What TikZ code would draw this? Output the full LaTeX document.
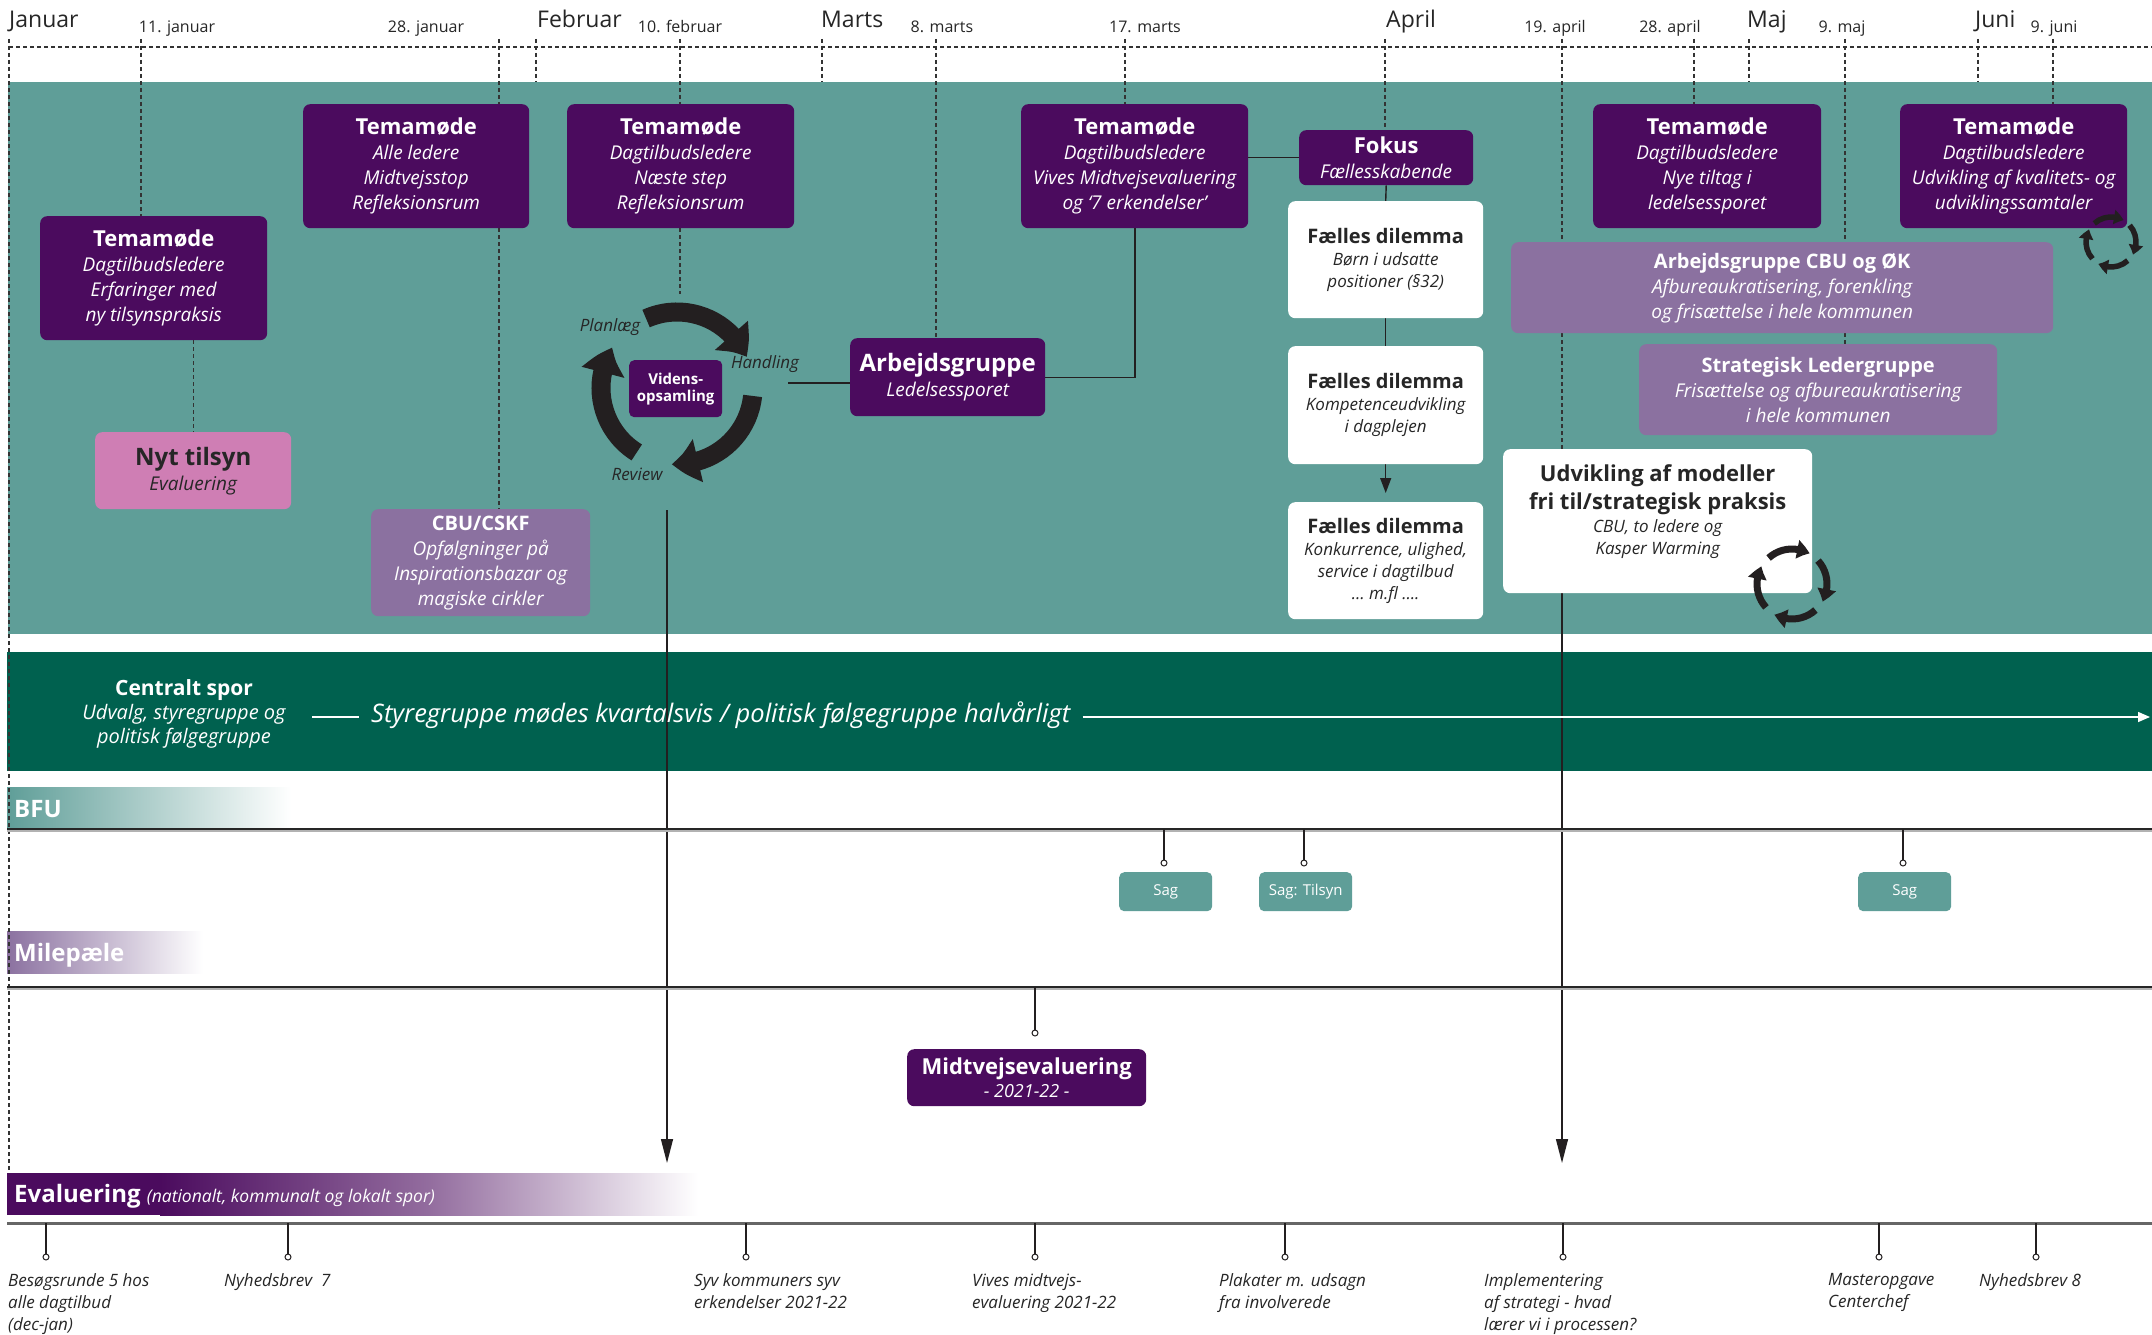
\documentclass[tikz,border=0pt]{standalone}
\usepackage{fontspec}
\setmainfont{Open Sans}
\usetikzlibrary{arrows.meta,calc,bending}
\definecolor{purpD}{HTML}{4B0B5E}
\definecolor{purpM}{HTML}{8B71A0}
\definecolor{pinkC}{HTML}{CF7EB4}
\definecolor{tealC}{HTML}{5F9E98}
\definecolor{greenD}{HTML}{00614F}
\definecolor{inkC}{HTML}{231F20}
\definecolor{txtD}{HTML}{262626}
\newcommand\mttl{\bfseries\upshape\fontsize{22}{26}\selectfont}
\newcommand\bttl{\bfseries\upshape\fontsize{24}{28}\selectfont}
\newcommand\cttl{\bfseries\upshape\fontsize{20}{24}\selectfont}
\newcommand\msub{\itshape\fontsize{19}{25}\selectfont}
\newcommand\dttl{\bfseries\upshape\fontsize{20}{24}\selectfont}
\newcommand\dsub{\itshape\fontsize{17}{22}\selectfont}
\pgfdeclarelayer{back}
\pgfdeclarelayer{mid}
\pgfsetlayers{back,mid,main}
\tikzset{
  sz/.style 2 args={minimum width=#1, minimum height=#2},
  box/.style={rounded corners=7pt, align=center, inner sep=0pt, anchor=north west, font=\msub},
  dbox/.style={box, fill=purpD, text=white},
  mbox/.style={box, fill=purpM, text=white},
  wbox/.style={box, fill=white, text=txtD, font=\dsub},
  pbox/.style={box, fill=pinkC, text=txtD},
  tickln/.style={draw=black!80, dash pattern=on 4pt off 3pt, line width=1.2pt},
  conn/.style={draw=inkC, line width=1.4pt},
  arr/.style={conn, -{Triangle[width=12pt,length=24pt]}},
  stemln/.style={draw=inkC, line width=1.2pt},
  pinc/.style={circle, draw=inkC, fill=white, line width=1pt, minimum size=6pt, inner sep=0pt},
  cyc/.style={draw=inkC, line width=19pt, -{Triangle[width=42pt,length=27pt,bend]}},
  scyc/.style={draw=inkC, line width=7pt, -{Triangle[width=18pt,length=13pt,bend]}},
  tcyc/.style={draw=inkC, line width=5.5pt, -{Triangle[width=14pt,length=10pt,bend]}},
  lbl/.style={font=\itshape\fontsize{17}{22}\selectfont, text=txtD, align=left, anchor=north west, inner sep=0pt},
  monthlbl/.style={font=\fontsize{23}{28}\selectfont, text=txtD, anchor=base west, inner sep=0pt},
  datelbl/.style={font=\fontsize{16}{20}\selectfont, text=txtD, anchor=base, inner sep=0pt},
  sag/.style={fill=tealC, rounded corners=5pt, text=white, font=\fontsize{15}{18}\selectfont, minimum width=93, minimum height=39, anchor=north west, inner sep=0pt},
  cyclbl/.style={font=\itshape\fontsize{17}{20}\selectfont, text=txtD, inner sep=0pt},
  barlbl/.style={font=\bfseries\fontsize{24}{28}\selectfont, text=white, anchor=base west, inner sep=0pt},
}
\begin{document}
\begin{tikzpicture}[x=1pt,y=-1pt]
\useasboundingbox (0,0) rectangle (2152,1335);
\begin{pgfonlayer}{back}
\fill[white] (0,0) rectangle (2152,1335);
\fill[tealC] (8,82) rectangle (2152,634);
\fill[greenD] (7,652) rectangle (2152,771);
\shade[left color=tealC, right color=white] (7,787) rectangle (291,829);
\shade[left color=purpM, right color=white] (7,931) rectangle (203,973);
\fill[purpD] (7,1173) rectangle (160,1215);
\shade[left color=purpD, right color=white, middle color=purpD!60!white] (160,1173) rectangle (698,1215);
\end{pgfonlayer}

% month and date labels
\node[monthlbl] (mJan) at (9,28) {Januar};
\node[monthlbl] (mFeb) at (537,28) {Februar};
\node[monthlbl] (mMar) at (821,28) {Marts};
\node[monthlbl] (mApr) at (1386,28) {April};
\node[monthlbl] (mMaj) at (1747,28) {Maj};
\node[monthlbl] (mJun) at (1975,28) {Juni};
\node[datelbl] (d11j) at (177,33) {11. januar};
\node[datelbl] (d28j) at (426,33) {28. januar};
\node[datelbl] (d10f) at (680,33) {10. februar};
\node[datelbl] (d8m) at (942,33) {8. marts};
\node[datelbl] (d17m) at (1145,33) {17. marts};
\node[datelbl] (d19a) at (1555,33) {19. april};
\node[datelbl] (d28a) at (1670,33) {28. april};
\node[datelbl] (d9m) at (1842,33) {9. maj};
\node[datelbl] (d9j) at (2054,33) {9. juni};

% coordinates
\coordinate (hl) at (9,47); \coordinate (hr) at (2152,47);
\coordinate (tealT) at (0,82);
\coordinate (kJan) at (9,39); \coordinate (kJanE) at (9,1173);
\coordinate (k11) at (141,39);
\coordinate (k28) at (499,39);
\coordinate (kFeb) at (536,39);
\coordinate (k10) at (680,39);
\coordinate (cyctop) at (680,294);
\coordinate (kMar) at (822,39);
\coordinate (k8) at (936,39);
\coordinate (k17) at (1125,39);
\coordinate (kApr) at (1385,39);
\coordinate (k19) at (1562,39);
\coordinate (k28a) at (1694,39);
\coordinate (kMaj) at (1749,39);
\coordinate (k9m) at (1845,39);
\coordinate (kJun) at (1978,39);
\coordinate (k9j) at (2053,39);
\coordinate (armX) at (1135,0);
\coordinate (hand) at (788,383);
\coordinate (revS) at (667,510);
\coordinate (revE) at (667,1163);
\coordinate (csl) at (312,717);
\coordinate (csr) at (2150,717);
\coordinate (bfuL) at (7,829); \coordinate (bfuR) at (2152,829);
\coordinate (milL) at (7,987); \coordinate (milR) at (2152,987);
\coordinate (evL) at (7,1223); \coordinate (evR) at (2152,1223);

% boxes
\node[dbox, sz={227}{124}] (tm1) at (40,216) {{\mttl Temamøde}\\Dagtilbudsledere\\Erfaringer med\\ny tilsynspraksis};
\node[dbox, sz={226}{124}] (tm2) at (303,104) {{\mttl Temamøde}\\Alle ledere\\Midtvejsstop\\Refleksionsrum};
\node[dbox, sz={227}{124}] (tm3) at (567,104) {{\mttl Temamøde}\\Dagtilbudsledere\\Næste step\\Refleksionsrum};
\node[dbox, sz={227}{124}] (tm17) at (1021,104) {{\mttl Temamøde}\\Dagtilbudsledere\\Vives Midtvejsevaluering\\og ‘7 erkendelser’};
\node[dbox, sz={228}{124}] (tm28) at (1593,104) {{\mttl Temamøde}\\Dagtilbudsledere\\Nye tiltag i\\ledelsessporet};
\node[dbox, sz={227}{124}] (tm9j) at (1900,104) {{\mttl Temamøde}\\Dagtilbudsledere\\Udvikling af kvalitets- og\\udviklingssamtaler};
\node[pbox, sz={196}{77}] (nyt) at (95,432) {{\bttl Nyt tilsyn}\\Evaluering};
\node[mbox, sz={219}{107}] (cbucskf) at (371,509) {{\cttl CBU/CSKF}\\Opfølgninger på\\Inspirationsbazar og\\magiske cirkler};
\node[dbox, rounded corners=5pt, sz={93}{57}, font=\bfseries\fontsize{15}{17}\selectfont] (vid) at (629,360) {Videns-\\opsamling};
\node[dbox, sz={195}{78}] (arb) at (850,338) {{\bttl Arbejdsgruppe}\\Ledelsessporet};
\node[dbox, sz={174}{55}] (fokus) at (1299,130) {{\mttl Fokus}\\Fællesskabende};
\node[wbox, sz={195}{117}] (dil1) at (1288,201) {{\dttl Fælles dilemma}\\Børn i udsatte\\positioner (§32)};
\node[wbox, sz={195}{118}] (dil2) at (1288,346) {{\dttl Fælles dilemma}\\Kompetenceudvikling\\i dagplejen};
\node[wbox, sz={195}{117}] (dil3) at (1288,502) {{\dttl Fælles dilemma}\\Konkurrence, ulighed,\\service i dagtilbud\\… m.fl ….};
\node[mbox, sz={542}{91}] (cbuok) at (1511,242) {{\cttl Arbejdsgruppe CBU og ØK}\\Afbureaukratisering, forenkling\\og frisættelse i hele kommunen};
\node[mbox, sz={358}{91}] (strat) at (1639,344) {{\cttl Strategisk Ledergruppe}\\Frisættelse og afbureaukratisering\\i hele kommunen};
\node[wbox, sz={309}{144}] (udv) at (1503,449) {{\bfseries\upshape\fontsize{22}{28}\selectfont Udvikling af modeller}\\[5pt]{\bfseries\upshape\fontsize{22}{28}\selectfont fri til/strategisk praksis}\\[1pt]CBU, to ledere og\\Kasper Warming\\[2pt]\mbox{}};
\node[dbox, sz={239}{57}, font=\itshape\fontsize{18}{23}\selectfont] (midt) at (907,1049) {{\mttl Midtvejsevaluering}\\- 2021-22 -};
\node[sag] (sag1) at (1119,872) {Sag};
\node[sag] (sag2) at (1259,872) {Sag: Tilsyn};
\node[sag] (sag3) at (1858,872) {Sag};

% central track texts
\node[align=center, text=white, inner sep=0pt, font=\itshape\fontsize{20}{24}\selectfont] (cs) at (184,714) {{\bfseries\upshape\fontsize{21}{24}\selectfont Centralt spor}\\Udvalg, styregruppe og\\politisk følgegruppe};
\node[anchor=west, inner xsep=12pt, inner ysep=0pt, text=white, font=\itshape\fontsize{25.5}{30}\selectfont] (styr) at (359,715) {Styregruppe mødes kvartalsvis / politisk følgegruppe halvårligt};

% bar labels
\node[barlbl] (bfu) at (14,817) {BFU};
\node[barlbl] (mil) at (14,961) {Milepæle};
\node[barlbl] (evl) at (14,1202) {Evaluering {\mdseries\itshape\fontsize{17.5}{20}\selectfont (nationalt, kommunalt og lokalt spor)}};

% cycle labels
\node[cyclbl] (planl) at (610,327) {Planlæg};
\node[cyclbl] (handl) at (765,364) {Handling};
\node[cyclbl] (revw) at (637,474) {Review};

% pins
\node[pinc] (pm) at (1035,1033) {};
\node[pinc] (ps1) at (1164,863) {};
\node[pinc] (ps2) at (1304,863) {};
\node[pinc] (ps3) at (1903,863) {};
\foreach \xx/\nm in {46/pa,288/pb,746/pc,1035/pd,1285/pe,1563/pf,1879/pg,2036/ph}
  \node[pinc] (\nm) at (\xx,1257) {};

% bottom labels
\node[lbl] (la) at (8,1273) {Besøgsrunde 5 hos\\alle dagtilbud\\(dec-jan)};
\node[lbl] (lb) at (224,1273) {Nyhedsbrev~ 7};
\node[lbl] (lc) at (694,1273) {Syv kommuners syv\\erkendelser 2021-22};
\node[lbl] (ld) at (972,1273) {Vives midtvejs-\\evaluering 2021-22};
\node[lbl] (le) at (1219,1273) {Plakater m. udsagn\\fra involverede};
\node[lbl] (lf) at (1484,1273) {Implementering\\af strategi - hvad\\lærer vi i processen?};
\node[lbl] (lg) at (1828,1273) {Masteropgave\\Centerchef};
\node[lbl] (lh) at (1979,1273) {Nyhedsbrev 8};

\begin{pgfonlayer}{mid}
% dashed timeline
\draw[tickln] (hl) -- (hr);
\draw[tickln] (kJan) -- (kJanE);
\draw[tickln] (k11) -- (k11 |- tm1.north);
\draw[tickln] (tm1.south -| nyt.north) -- (nyt.north);
\draw[tickln] (k28) -- (k28 |- tm2.north);
\draw[tickln] (tm2.south -| k28) -- (cbucskf.north -| k28);
\draw[tickln] (kFeb) -- (kFeb |- tealT);
\draw[tickln] (k10) -- (k10 |- tm3.north);
\draw[tickln] (tm3.south -| k10) -- (cyctop);
\draw[tickln] (kMar) -- (kMar |- tealT);
\draw[tickln] (k8) -- (k8 |- arb.north);
\draw[tickln] (k17) -- (k17 |- tm17.north);
\draw[tickln] (kApr) -- (kApr |- fokus.north);
\draw[tickln] (k19) -- (k19 |- udv.north);
\draw[tickln] (k28a) -- (k28a |- tm28.north);
\draw[tickln] (kMaj) -- (kMaj |- tealT);
\draw[tickln] (k9m) -- (k9m |- strat.north);
\draw[tickln] (kJun) -- (kJun |- tealT);
\draw[tickln] (k9j) -- (k9j |- tm9j.north);
% solid connectors
\draw[conn] (tm17.east |- fokus.west) -- (fokus.west);
\draw[conn] (fokus.south) -- (dil1.north);
\draw[conn] (dil1.south) -- (dil2.north);
\draw[conn, -{Triangle[width=11pt,length=15pt]}, shorten >=9pt] (dil2.south) -- (dil3.north);
\draw[conn] (tm17.south -| armX) |- (arb.east);
\draw[conn] (hand) -- (hand -| arb.west);
\draw[arr] (revS) -- (revE);
\draw[arr] (udv.south -| k19) -- (k19 |- revE);
% central track
\draw[white, line width=1.5pt] (csl) -- (csl -| styr.west);
\draw[white, line width=1.5pt, -{Triangle[width=10pt,length=12pt]}] (styr.east |- csr) -- (csr);
% lane lines
\draw[black!30, line width=3pt] ($(bfuL)+(0,1.5)$) -- ($(bfuR)+(0,1.5)$);
\draw[black!85, line width=1.8pt] (bfuL) -- (bfuR);
\draw[black!30, line width=3pt] ($(milL)+(0,1.5)$) -- ($(milR)+(0,1.5)$);
\draw[black!85, line width=1.8pt] (milL) -- (milR);
\draw[black!60, line width=3pt] (evL) -- (evR);
% stems
\draw[stemln] (pm.north) -- (pm |- milL);
\draw[stemln] (ps1.north) -- (ps1 |- bfuL);
\draw[stemln] (ps2.north) -- (ps2 |- bfuL);
\draw[stemln] (ps3.north) -- (ps3 |- bfuL);
\foreach \nm in {pa,pb,pc,pd,pe,pf,pg,ph}
  \draw[stemln] (\nm.north) -- (\nm |- evL);
\end{pgfonlayer}

% main cycle
\coordinate (cc) at (677,388);
\draw[cyc] ($(cc)+(-114:76)$) arc[start angle=-114, end angle=-24, radius=76];
\draw[cyc] ($(cc)+(6:76)$) arc[start angle=6, end angle=94, radius=76];
\draw[cyc] ($(cc)+(122:76)$) arc[start angle=122, end angle=212, radius=76];
% small cycles
\coordinate (sc2) at (1792,584);
\foreach \a in {-132,-42,48,138}
  \draw[scyc] ($(sc2)+(\a:35)$) arc[start angle=\a, end angle=\a+72, radius=35];
\coordinate (sc1) at (2111,242);
\foreach \a in {-132,-42,48,138}
  \draw[tcyc] ($(sc1)+(\a:25)$) arc[start angle=\a, end angle=\a+72, radius=25];
\end{tikzpicture}
\end{document}
